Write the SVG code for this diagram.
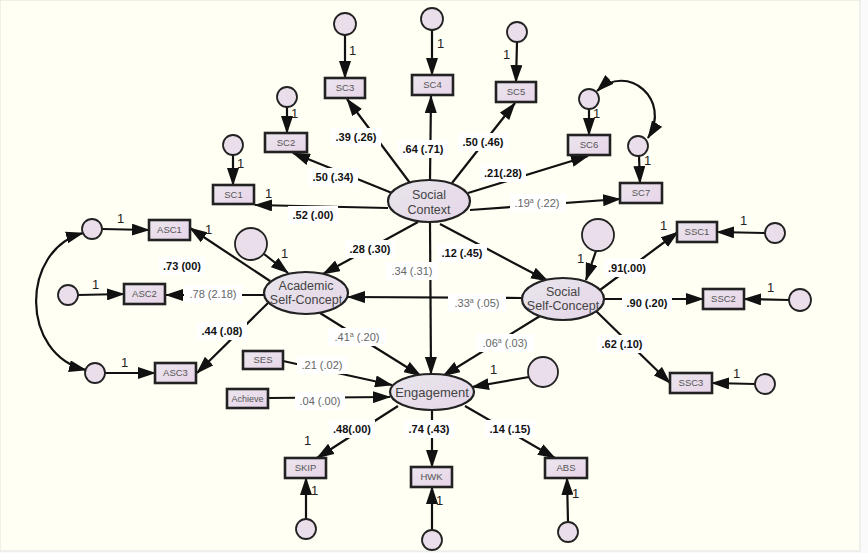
<svg xmlns="http://www.w3.org/2000/svg" width="868" height="553" viewBox="0 0 868 553">
<defs>
<linearGradient id="gbox" x1="0" y1="0" x2="1" y2="1"><stop offset="0" stop-color="#ebe6ee"/><stop offset="1" stop-color="#e8d4e8"/></linearGradient>
<linearGradient id="gell" x1="0" y1="0" x2="1" y2="1"><stop offset="0" stop-color="#e8e6ec"/><stop offset="1" stop-color="#e6d6e8"/></linearGradient>
<marker id="ah" viewBox="0 0 18 12" refX="17" refY="6" markerWidth="18" markerHeight="12" markerUnits="userSpaceOnUse" orient="auto-start-reverse"><path d="M0,0 L18,6 L0,12 z" fill="#111"/></marker>
<style>
.conn line,.conn path{stroke:#111;stroke-width:2.2;fill:none;marker-end:url(#ah)}
.conn path{marker-start:url(#ah)}
.obs rect{fill:url(#gbox);stroke:#222;stroke-width:2.6}
.obs text{font-family:"Liberation Sans",Arial,sans-serif;font-size:9.5px;fill:#555;text-anchor:middle}
.lat ellipse{fill:url(#gell);stroke:#222;stroke-width:2.2}
.lat text{font-family:"Liberation Sans",Arial,sans-serif;font-size:12.5px;fill:#444;text-anchor:middle}
.err circle{fill:#ebdeeb;stroke:#222;stroke-width:1.8}
.lbl rect{fill:#ffffff}
.lbl text{font-family:"Liberation Sans",Arial,sans-serif;font-size:11px;text-anchor:middle}
.b text{font-weight:bold;fill:#111}
.n text{fill:#666}
.one{font-family:"Liberation Sans",Arial,sans-serif;font-size:13px;fill:#222}
.sup{font-size:7px}
</style>
</defs>
<rect x="0" y="0" width="868" height="553" fill="#fafafa"/>
<rect x="0" y="0" width="860" height="551" fill="#fffff4" stroke="#e2e2e2" stroke-width="1"/>

<g id="connectors" class="conn">
<line x1="388" y1="208" x2="255" y2="205"/>
<line x1="392" y1="193" x2="293" y2="153"/>
<line x1="410" y1="183" x2="347" y2="99"/>
<line x1="430" y1="180" x2="431" y2="96"/>
<line x1="452" y1="183" x2="515" y2="103"/>
<line x1="468" y1="193" x2="588" y2="156"/>
<line x1="470" y1="210" x2="620" y2="199"/>
<line x1="418" y1="222" x2="323" y2="274"/>
<line x1="430" y1="222" x2="431" y2="374"/>
<line x1="440" y1="224" x2="548" y2="281"/>
<line x1="522" y1="298" x2="348" y2="297"/>
<line x1="270" y1="281" x2="190" y2="228"/>
<line x1="264" y1="295" x2="166" y2="295"/>
<line x1="268" y1="303" x2="197" y2="373"/>
<line x1="320" y1="313" x2="421" y2="376"/>
<line x1="540" y1="316" x2="443" y2="376"/>
<line x1="283" y1="361" x2="392" y2="385"/>
<line x1="268" y1="398" x2="390" y2="397"/>
<line x1="529" y1="377" x2="472" y2="387"/>
<line x1="398" y1="406" x2="317" y2="458"/>
<line x1="432" y1="410" x2="432" y2="467"/>
<line x1="465" y1="406" x2="555" y2="458"/>
<line x1="600" y1="290" x2="678" y2="232"/>
<line x1="604" y1="299" x2="703" y2="299"/>
<line x1="596" y1="311" x2="670" y2="383"/>
<line x1="233" y1="155" x2="233" y2="185"/>
<line x1="287" y1="107" x2="287" y2="133"/>
<line x1="345" y1="35" x2="345" y2="78"/>
<line x1="432" y1="30" x2="432" y2="75"/>
<line x1="517" y1="42" x2="516" y2="82"/>
<line x1="589" y1="109" x2="589" y2="135"/>
<line x1="639" y1="156" x2="640" y2="183"/>
<line x1="102" y1="229" x2="149" y2="230"/>
<line x1="78" y1="295" x2="124" y2="294"/>
<line x1="105" y1="373" x2="155" y2="373"/>
<line x1="264" y1="254" x2="288" y2="273"/>
<line x1="596" y1="251" x2="586" y2="280"/>
<line x1="765" y1="233" x2="717" y2="232"/>
<line x1="789" y1="300" x2="744" y2="299"/>
<line x1="755" y1="384" x2="712" y2="383"/>
<line x1="306" y1="519" x2="306" y2="478"/>
<line x1="432" y1="530" x2="432" y2="487"/>
<line x1="568" y1="522" x2="567" y2="478"/>
<path d="M83,233 C20,250 20,355 86,370"/>
<path d="M597,91 C628,62 672,100 648,138"/>
</g>

<g id="labels">
<g class="lbl b"><rect x="331" y="128" width="50" height="18"/><text x="356" y="141">.39 (.26)</text></g>
<g class="lbl b"><rect x="398" y="140" width="50" height="18"/><text x="423" y="153">.64 (.71)</text></g>
<g class="lbl b"><rect x="458" y="133" width="50" height="18"/><text x="483" y="146">.50 (.46)</text></g>
<g class="lbl b"><rect x="308" y="168" width="50" height="18"/><text x="333" y="181">.50 (.34)</text></g>
<g class="lbl b"><rect x="288" y="206" width="50" height="18"/><text x="313" y="219">.52 (.00)</text></g>
<g class="lbl b"><rect x="480" y="164" width="46" height="18"/><text x="503" y="177">.21(.28)</text></g>
<g class="lbl n"><rect x="510" y="194" width="56" height="18"/><text x="537" y="207">.19<tspan class="sup" dy="-4">a</tspan><tspan dy="4"> (.22)</tspan></text></g>
<g class="lbl b"><rect x="345" y="240" width="50" height="18"/><text x="370" y="253">.28 (.30)</text></g>
<g class="lbl b"><rect x="437" y="244" width="50" height="18"/><text x="462" y="257">.12 (.45)</text></g>
<g class="lbl n"><rect x="386" y="262" width="52" height="18"/><text x="412" y="275">.34 (.31)</text></g>
<g class="lbl n"><rect x="448" y="294" width="58" height="18"/><text x="477" y="307">.33<tspan class="sup" dy="-4">a</tspan><tspan dy="4"> (.05)</tspan></text></g>
<g class="lbl n"><rect x="328" y="328" width="58" height="18"/><text x="357" y="341">.41<tspan class="sup" dy="-4">a</tspan><tspan dy="4"> (.20)</tspan></text></g>
<g class="lbl n"><rect x="476" y="334" width="58" height="18"/><text x="505" y="347">.06<tspan class="sup" dy="-4">a</tspan><tspan dy="4"> (.03)</tspan></text></g>
<g class="lbl b"><rect x="159" y="257" width="46" height="18"/><text x="182" y="270">.73 (00)</text></g>
<g class="lbl n"><rect x="184" y="285" width="58" height="18"/><text x="213" y="298">.78 (2.18)</text></g>
<g class="lbl b"><rect x="197" y="322" width="50" height="18"/><text x="222" y="335">.44 (.08)</text></g>
<g class="lbl n"><rect x="297" y="356" width="50" height="18"/><text x="322" y="369">.21 (.02)</text></g>
<g class="lbl n"><rect x="295" y="392" width="50" height="18"/><text x="320" y="405">.04 (.00)</text></g>
<g class="lbl b"><rect x="329" y="420" width="46" height="18"/><text x="352" y="433">.48(.00)</text></g>
<g class="lbl b"><rect x="404" y="420" width="50" height="18"/><text x="429" y="433">.74 (.43)</text></g>
<g class="lbl b"><rect x="485" y="420" width="50" height="18"/><text x="510" y="433">.14 (.15)</text></g>
<g class="lbl b"><rect x="604" y="259" width="46" height="18"/><text x="627" y="272">.91(.00)</text></g>
<g class="lbl b"><rect x="622" y="294" width="50" height="18"/><text x="647" y="307">.90 (.20)</text></g>
<g class="lbl b"><rect x="597" y="335" width="50" height="18"/><text x="622" y="348">.62 (.10)</text></g>
</g>

<g id="ones" class="one">
<text x="349" y="55">1</text>
<text x="437" y="48">1</text>
<text x="503" y="59">1</text>
<text x="291" y="118">1</text>
<text x="237" y="168">1</text>
<text x="593" y="118">1</text>
<text x="644" y="165">1</text>
<text x="265" y="198">1</text>
<text x="117" y="223">1</text>
<text x="205" y="234">1</text>
<text x="92" y="289">1</text>
<text x="121" y="367">1</text>
<text x="281" y="258">1</text>
<text x="577" y="263">1</text>
<text x="740" y="225">1</text>
<text x="660" y="230">1</text>
<text x="767" y="292">1</text>
<text x="733" y="378">1</text>
<text x="490" y="374">1</text>
<text x="304" y="445">1</text>
<text x="311" y="495">1</text>
<text x="436" y="505">1</text>
<text x="572" y="498">1</text>
</g>

<g id="social-context" class="lat"><ellipse cx="429" cy="201" rx="41" ry="21"/><text x="429" y="199">Social</text><text x="429" y="214">Context</text></g>
<g id="academic-self-concept" class="lat"><ellipse cx="306" cy="293" rx="42" ry="21"/><text x="306" y="290">Academic</text><text x="306" y="304">Self-Concept</text></g>
<g id="social-self-concept" class="lat"><ellipse cx="563" cy="299" rx="41" ry="21"/><text x="563" y="296">Social</text><text x="563" y="310">Self-Concept</text></g>
<g id="engagement" class="lat"><ellipse cx="432" cy="392" rx="42" ry="18"/><text x="432" y="397" style="font-size:13px">Engagement</text></g>

<g id="SC1" class="obs"><rect x="213" y="185" width="41" height="19"/><text x="233.5" y="198">SC1</text></g>
<g id="SC2" class="obs"><rect x="265" y="133" width="42" height="19"/><text x="286" y="146">SC2</text></g>
<g id="SC3" class="obs"><rect x="325" y="78" width="40" height="20"/><text x="345" y="91">SC3</text></g>
<g id="SC4" class="obs"><rect x="412" y="75" width="41" height="20"/><text x="432.5" y="88">SC4</text></g>
<g id="SC5" class="obs"><rect x="496" y="82" width="40" height="20"/><text x="516" y="95">SC5</text></g>
<g id="SC6" class="obs"><rect x="568" y="135" width="42" height="20"/><text x="589" y="148">SC6</text></g>
<g id="SC7" class="obs"><rect x="620" y="183" width="42" height="20"/><text x="641" y="196">SC7</text></g>
<g id="ASC1" class="obs"><rect x="149" y="220" width="41" height="20"/><text x="169.5" y="233">ASC1</text></g>
<g id="ASC2" class="obs"><rect x="124" y="284" width="41" height="20"/><text x="144.5" y="297">ASC2</text></g>
<g id="ASC3" class="obs"><rect x="155" y="363" width="41" height="20"/><text x="175.5" y="376">ASC3</text></g>
<g id="SSC1" class="obs"><rect x="677" y="222" width="40" height="20"/><text x="697" y="235">SSC1</text></g>
<g id="SSC2" class="obs"><rect x="703" y="289" width="41" height="20"/><text x="723.5" y="302">SSC2</text></g>
<g id="SSC3" class="obs"><rect x="670" y="373" width="42" height="20"/><text x="691" y="386">SSC3</text></g>
<g id="SES" class="obs"><rect x="243" y="351" width="40" height="18"/><text x="263" y="363">SES</text></g>
<g id="Achieve" class="obs"><rect x="227" y="389" width="41" height="19"/><text x="247.5" y="402" style="font-size:9px">Achieve</text></g>
<g id="SKIP" class="obs"><rect x="285" y="458" width="41" height="20"/><text x="305.5" y="471">SKIP</text></g>
<g id="HWK" class="obs"><rect x="411" y="467" width="41" height="20"/><text x="431.5" y="480">HWK</text></g>
<g id="ABS" class="obs"><rect x="545" y="458" width="42" height="20"/><text x="566" y="471">ABS</text></g>

<g id="e-SC1" class="err"><circle cx="233" cy="145" r="10"/></g>
<g id="e-SC2" class="err"><circle cx="287" cy="97" r="10"/></g>
<g id="e-SC3" class="err"><circle cx="345" cy="24" r="11"/></g>
<g id="e-SC4" class="err"><circle cx="432" cy="19" r="11"/></g>
<g id="e-SC5" class="err"><circle cx="517" cy="32" r="10"/></g>
<g id="e-SC6" class="err"><circle cx="589" cy="99" r="10"/></g>
<g id="e-SC7" class="err"><circle cx="638" cy="146" r="10"/></g>
<g id="e-ASC1" class="err"><circle cx="92" cy="229" r="10"/></g>
<g id="e-ASC2" class="err"><circle cx="68" cy="295" r="10"/></g>
<g id="e-ASC3" class="err"><circle cx="95" cy="373" r="10"/></g>
<g id="d-ASC" class="err"><circle cx="251" cy="244" r="16"/></g>
<g id="d-SSC" class="err"><circle cx="598" cy="235" r="16"/></g>
<g id="e-SSC1" class="err"><circle cx="775" cy="233" r="10"/></g>
<g id="e-SSC2" class="err"><circle cx="800" cy="300" r="11"/></g>
<g id="e-SSC3" class="err"><circle cx="765" cy="384" r="10"/></g>
<g id="d-ENG" class="err"><circle cx="543" cy="372" r="15"/></g>
<g id="e-SKIP" class="err"><circle cx="306" cy="529" r="10"/></g>
<g id="e-HWK" class="err"><circle cx="432" cy="540" r="10"/></g>
<g id="e-ABS" class="err"><circle cx="568" cy="532" r="10"/></g>
</svg>
